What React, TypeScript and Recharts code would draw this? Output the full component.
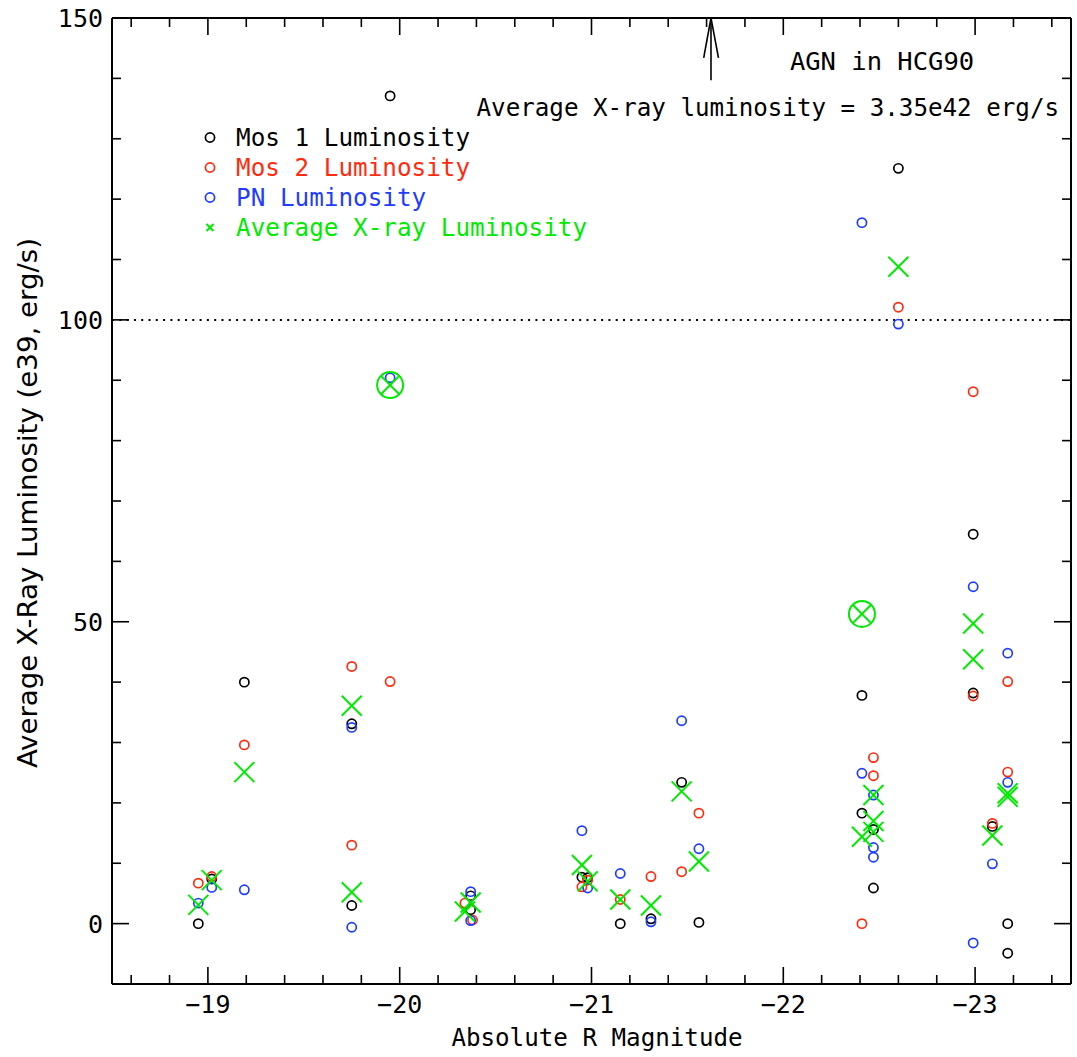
import React from "react";
import { ScatterChart, Scatter, XAxis, YAxis, ReferenceLine, Legend } from "recharts";

const W = 1077;
const H = 1057;
const FONT = "'DejaVu Sans Mono', 'Liberation Mono', monospace";

const BLACK = "#000000";
const RED = "#ff2b0f";
const BLUE = "#1f3dff";
const GREEN = "#00ea00";

// absolute R magnitude (as plotted, negative) and luminosity in 1e39 erg/s
const mos1X = [-18.95, -19.02, -19.19, -19.75, -19.75, -19.95, -20.37, -20.37, -20.95, -20.98, -21.15, -21.31, -21.47, -21.56, -22.41, -22.41, -22.47, -22.47, -22.6, -22.99, -22.99, -23.09, -23.17, -23.17];
const mos1Y = [0.0, 7.4, 40.0, 33.1, 3.0, 137.1, 4.6, 2.3, 7.7, 7.6, 0.0, 0.8, 23.4, 0.2, 37.8, 18.3, 15.6, 5.9, 125.1, 64.5, 38.2, 16.1, 0.0, -4.9];

const mos2X = [-18.95, -19.02, -19.19, -19.75, -19.75, -19.95, -20.34, -20.38, -20.95, -20.98, -21.15, -21.31, -21.47, -21.56, -22.41, -22.47, -22.47, -22.6, -22.99, -22.99, -23.09, -23.17, -23.17];
const mos2Y = [6.7, 7.8, 29.6, 42.6, 13.0, 40.1, 3.4, 0.6, 6.1, 7.2, 4.0, 7.8, 8.6, 18.3, 0.0, 27.5, 24.5, 102.1, 88.1, 37.7, 16.6, 40.1, 25.1];

const pnX = [-18.95, -19.02, -19.19, -19.75, -19.75, -19.95, -20.37, -20.37, -20.95, -20.98, -21.15, -21.31, -21.47, -21.56, -22.41, -22.41, -22.47, -22.47, -22.47, -22.6, -22.99, -22.99, -23.09, -23.17, -23.17];
const pnY = [3.4, 6.0, 5.6, 32.5, -0.6, 90.4, 5.3, 0.5, 15.4, 5.9, 8.3, 0.3, 33.6, 12.4, 116.1, 24.9, 21.3, 12.6, 11.0, 99.3, 55.8, -3.2, 9.9, 44.8, 23.4];

const avgX = [-18.95, -19.02, -19.19, -19.75, -19.75, -20.37, -20.34, -20.95, -20.98, -21.15, -21.31, -21.47, -21.56, -22.41, -22.47, -22.47, -22.47, -22.6, -22.99, -22.99, -23.09, -23.17, -23.17];
const avgY = [3.1, 7.2, 25.1, 36.1, 5.2, 3.5, 2.0, 9.7, 7.0, 4.0, 3.0, 21.9, 10.3, 14.4, 21.3, 17.0, 15.2, 108.8, 49.7, 43.8, 14.6, 21.6, 21.0];

// averages marked with a surrounding circle
const flaggedX = [-19.95, -22.41];
const flaggedY = [89.2, 51.3];

const legendOrder = ["Mos 1 Luminosity", "Mos 2 Luminosity", "PN Luminosity", "Average X-ray Luminosity"];

const xMajorTicks = [-19, -20, -21, -22, -23];
const xTickLabels = ["\u221219", "\u221220", "\u221221", "\u221222", "\u221223"];
const yMajorTicks = [0, 50, 100, 150];
const yTickLabels = ["0", "50", "100", "150"];

const xTicks: number[] = [];
for (let k = 93; k <= 117; k++) xTicks.push(-k / 5);
const yTicks: number[] = [];
for (let v = 0; v <= 150; v += 10) yTicks.push(v);

const zip = (xs: number[], ys: number[]) => xs.map((x, i) => ({ x, y: ys[i] }));

const mos1Data = zip(mos1X, mos1Y);
const mos2Data = zip(mos2X, mos2Y);
const pnData = zip(pnX, pnY);
const avgData = zip(avgX, avgY);
const flaggedData = zip(flaggedX, flaggedY);

const isMajorX = (v: number) => xMajorTicks.some((m) => Math.abs(m - v) < 1e-6);
const isMajorY = (v: number) => yMajorTicks.includes(v);

const circleShape = (color: string) => (p: any) =>
  <circle cx={p.cx} cy={p.cy} r={4.6} fill="none" stroke={color} strokeWidth={1.7} />;

const crossShape = (p: any) => {
  const d = 10;
  return (
    <g stroke={GREEN} strokeWidth={2}>
      <line x1={p.cx - d} y1={p.cy - d} x2={p.cx + d} y2={p.cy + d} />
      <line x1={p.cx - d} y1={p.cy + d} x2={p.cx + d} y2={p.cy - d} />
    </g>
  );
};

const circledCrossShape = (p: any) => {
  const d = 9.2;
  return (
    <g stroke={GREEN} strokeWidth={2} fill="none">
      <circle cx={p.cx} cy={p.cy} r={13} />
      <line x1={p.cx - d} y1={p.cy - d} x2={p.cx + d} y2={p.cy + d} />
      <line x1={p.cx - d} y1={p.cy + d} x2={p.cx + d} y2={p.cy - d} />
    </g>
  );
};

const XTickBottom = (props: any) => {
  const { x, y, payload } = props;
  const major = isMajorX(payload.value);
  const idx = xMajorTicks.findIndex((m) => Math.abs(m - payload.value) < 1e-6);
  return (
    <g>
      <line x1={x} x2={x} y1={y} y2={y - (major ? 17 : 9)} stroke="#000" strokeWidth={1.6} />
      {major && (
        <text x={x} y={y + 29} textAnchor="middle" fontSize={25} fontFamily={FONT} fill="#000">
          {xTickLabels[idx]}
        </text>
      )}
    </g>
  );
};

const XTickTop = (props: any) => {
  const { x, y, payload } = props;
  const major = isMajorX(payload.value);
  return <line x1={x} x2={x} y1={y} y2={y + (major ? 17 : 9)} stroke="#000" strokeWidth={1.6} />;
};

const YTickLeft = (props: any) => {
  const { x, y, payload } = props;
  const major = isMajorY(payload.value);
  const idx = yMajorTicks.indexOf(payload.value);
  return (
    <g>
      <line x1={x} x2={x + (major ? 17 : 9)} y1={y} y2={y} stroke="#000" strokeWidth={1.6} />
      {major && (
        <text x={x - 9} y={y + 9} textAnchor="end" fontSize={25} fontFamily={FONT} fill="#000">
          {yTickLabels[idx]}
        </text>
      )}
    </g>
  );
};

const YTickRight = (props: any) => {
  const { x, y, payload } = props;
  const major = isMajorY(payload.value);
  return <line x1={x} x2={x - (major ? 17 : 9)} y1={y} y2={y} stroke="#000" strokeWidth={1.6} />;
};

const renderLegend = (props: any) => {
  const items = (props.payload || [])
    .filter((e: any) => legendOrder.includes(e.value))
    .sort((a: any, b: any) => legendOrder.indexOf(a.value) - legendOrder.indexOf(b.value));
  return (
    <svg width={430} height={130}>
      {items.map((e: any, i: number) => {
        const cy = 17.5 + i * 30;
        return (
          <g key={i}>
            {e.type === "cross" ? (
              <g stroke={e.color} strokeWidth={2}>
                <line x1={10.5} y1={cy - 3.5} x2={17.5} y2={cy + 3.5} />
                <line x1={10.5} y1={cy + 3.5} x2={17.5} y2={cy - 3.5} />
              </g>
            ) : (
              <circle cx={14} cy={cy} r={4.6} fill="none" stroke={e.color} strokeWidth={1.7} />
            )}
            <text x={40} y={cy + 8} fontSize={24.3} fontFamily={FONT} fill={e.color}>
              {e.value}
            </text>
          </g>
        );
      })}
    </svg>
  );
};

export default function App() {
  const axisLine = { stroke: "#000", strokeWidth: 2 };
  return (
    <div style={{ position: "absolute", left: 0, top: 0, width: W, height: H, background: "#fff" }}>
      <ScatterChart width={W} height={H} margin={{ top: 17, right: 5, bottom: 0, left: 32 }}>
        <XAxis
          xAxisId="b"
          type="number"
          dataKey="x"
          domain={[-23.5, -18.5]}
          reversed
          allowDataOverflow
          ticks={xTicks}
          interval={0}
          height={73}
          axisLine={axisLine}
          tickLine={false}
          tickSize={0}
          tickMargin={0}
          tick={XTickBottom}
        />
        <XAxis
          xAxisId="t"
          orientation="top"
          type="number"
          dataKey="x"
          domain={[-23.5, -18.5]}
          reversed
          allowDataOverflow
          ticks={xTicks}
          interval={0}
          height={1}
          axisLine={axisLine}
          tickLine={false}
          tickSize={0}
          tickMargin={0}
          tick={XTickTop}
        />
        <YAxis
          yAxisId="l"
          type="number"
          dataKey="y"
          domain={[-10, 150]}
          allowDataOverflow
          ticks={yTicks}
          interval={0}
          width={80}
          axisLine={axisLine}
          tickLine={false}
          tickSize={0}
          tickMargin={0}
          tick={YTickLeft}
        />
        <YAxis
          yAxisId="r"
          orientation="right"
          type="number"
          dataKey="y"
          domain={[-10, 150]}
          allowDataOverflow
          ticks={yTicks}
          interval={0}
          width={1}
          axisLine={axisLine}
          tickLine={false}
          tickSize={0}
          tickMargin={0}
          tick={YTickRight}
        />
        <ReferenceLine xAxisId="b" yAxisId="l" y={100} stroke="#000" strokeWidth={2} strokeDasharray="2 5.3" />
        <ReferenceLine
          xAxisId="b"
          yAxisId="l"
          segment={[{ x: -21.623, y: 139.7 }, { x: -21.623, y: 150 }]}
          stroke="#000"
          strokeWidth={1.6}
        />
        <ReferenceLine
          xAxisId="b"
          yAxisId="l"
          segment={[{ x: -21.585, y: 143.4 }, { x: -21.623, y: 150 }]}
          stroke="#000"
          strokeWidth={1.6}
        />
        <ReferenceLine
          xAxisId="b"
          yAxisId="l"
          segment={[{ x: -21.662, y: 143.4 }, { x: -21.623, y: 150 }]}
          stroke="#000"
          strokeWidth={1.6}
        />
        <Scatter name="Mos 1 Luminosity" data={mos1Data} xAxisId="b" yAxisId="l" fill={BLACK} legendType="circle" shape={circleShape(BLACK)} isAnimationActive={false} />
        <Scatter name="Mos 2 Luminosity" data={mos2Data} xAxisId="b" yAxisId="l" fill={RED} legendType="circle" shape={circleShape(RED)} isAnimationActive={false} />
        <Scatter name="PN Luminosity" data={pnData} xAxisId="b" yAxisId="l" fill={BLUE} legendType="circle" shape={circleShape(BLUE)} isAnimationActive={false} />
        <Scatter name="Average X-ray Luminosity" data={avgData} xAxisId="b" yAxisId="l" fill={GREEN} legendType="cross" shape={crossShape} isAnimationActive={false} />
        <Scatter name="flagged" data={flaggedData} xAxisId="b" yAxisId="l" fill={GREEN} legendType="none" shape={circledCrossShape} isAnimationActive={false} />
        <Legend
          layout="vertical"
          align="center"
          verticalAlign="middle"
          content={renderLegend}
          wrapperStyle={{ left: 196, top: 120, width: 430, height: 130 }}
        />
        <text x={882} y={70} textAnchor="middle" fontSize={25.5} fontFamily={FONT} fill="#000">
          AGN in HCG90
        </text>
        <text x={1059} y={116} textAnchor="end" fontSize={24.2} fontFamily={FONT} fill="#000">
          Average X-ray luminosity = 3.35e42 erg/s
        </text>
        <text x={597} y={1046} textAnchor="middle" fontSize={24.2} fontFamily={FONT} fill="#000">
          Absolute R Magnitude
        </text>
        <text
          x={37}
          y={503}
          textAnchor="middle"
          fontSize={27}
          fontFamily="'DejaVu Sans Condensed', 'Liberation Sans Narrow', 'DejaVu Sans', sans-serif"
          textLength={530}
          lengthAdjust="spacingAndGlyphs"
          transform="rotate(-90 37 503)"
          fill="#000"
        >
          Average X-Ray Luminosity (e39, erg/s)
        </text>
      </ScatterChart>
    </div>
  );
}
